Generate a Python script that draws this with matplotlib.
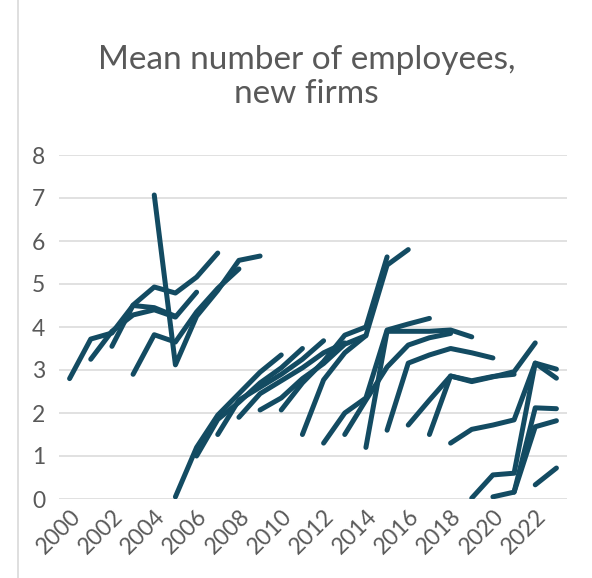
import matplotlib
matplotlib.use("Agg")
import matplotlib.pyplot as plt
from matplotlib.lines import Line2D

# category axis
years = list(range(2000, 2024))
year_labels = [str(y) if y % 2 == 0 else "" for y in years]

# mean employees per cohort, starting in the cohort's first year
cohort_2000 = [2.8, 3.72, 3.86, 4.5, 4.45, 4.25]
cohort_2001 = [3.25, 3.9, 4.28, 4.4, 4.23, 4.81]
cohort_2002 = [3.55, 4.51, 4.93, 4.79, 5.16, 5.72]
cohort_2003 = [2.9, 3.82, 3.65, 4.35, 4.9, 5.35]
cohort_2004 = [7.07, 3.12, 4.25, 4.85, 5.55, 5.65]
cohort_2005 = [0.05, 1.2, 1.95, 2.45, 2.95, 3.35]
cohort_2006 = [1.0, 1.85, 2.25, 2.7, 3.05, 3.5]
cohort_2007 = [1.5, 2.3, 2.6, 2.9, 3.25, 3.68]
cohort_2008 = [1.9, 2.45, 2.75, 3.05, 3.4, 3.63]
cohort_2009 = [2.07, 2.35, 2.8, 3.15, 3.6, 3.8]
cohort_2010 = [2.07, 2.7, 3.2, 3.81, 4.0, 5.63]
cohort_2011 = [1.5, 2.77, 3.4, 3.8, 5.44, 5.8]
cohort_2012 = [1.3, 2.0, 2.35, 3.93, 4.07, 4.2]
cohort_2013 = [1.5, 2.3, 3.07, 3.58, 3.75, 3.85]
cohort_2014 = [1.2, 3.9, 3.9, 3.9, 3.93, 3.77]
cohort_2015 = [1.6, 3.16, 3.35, 3.5, 3.4, 3.28]
cohort_2016 = [1.72, 2.3, 2.86, 2.75, 2.85, 2.9]
cohort_2017 = [1.5, 2.86, 2.73, 2.84, 2.96, 3.63]
cohort_2018 = [1.3, 1.62, 1.72, 1.84, 3.16, 3.02]
cohort_2019 = [0.02, 0.56, 0.6, 3.16, 2.81]
cohort_2020 = [0.05, 0.16, 2.12, 2.1]
cohort_2021 = [0.16, 1.68, 1.82]
cohort_2022 = [0.33, 0.72]

cohorts = [
    (2000, cohort_2000), (2001, cohort_2001), (2002, cohort_2002),
    (2003, cohort_2003), (2004, cohort_2004), (2005, cohort_2005),
    (2006, cohort_2006), (2007, cohort_2007), (2008, cohort_2008),
    (2009, cohort_2009), (2010, cohort_2010), (2011, cohort_2011),
    (2012, cohort_2012), (2013, cohort_2013), (2014, cohort_2014),
    (2015, cohort_2015), (2016, cohort_2016), (2017, cohort_2017),
    (2018, cohort_2018), (2019, cohort_2019), (2020, cohort_2020),
    (2021, cohort_2021), (2022, cohort_2022),
]

line_color = "#134B62"
text_color = "#595959"
grid_color = "#D9D9D9"

plt.rcParams["font.family"] = ["Lato", "DejaVu Sans"]

fig = plt.figure(figsize=(5.92, 5.78), dpi=100)
ax = fig.add_axes([59 / 592, 1 - 499 / 578, 508 / 592, 344 / 578])

for start, vals in cohorts:
    i0 = years.index(start)
    xs = list(range(i0, i0 + len(vals)))
    ax.plot(xs, vals, color=line_color, lw=3.6, solid_capstyle="round",
            solid_joinstyle="round", zorder=3)

ax.set_xlim(-0.5, len(years) - 0.5)
ax.set_ylim(0, 8)
ax.set_yticks(range(0, 9))
ax.set_xticks(range(len(years)))
ax.set_xticklabels(year_labels, rotation=45, ha="right", rotation_mode="anchor")
ax.tick_params(axis="both", length=0, labelsize=16.5, colors=text_color)
ax.tick_params(axis="y", pad=10)
ax.tick_params(axis="x", pad=5)
ax.yaxis.grid(True, color=grid_color, lw=1.1)
ax.set_axisbelow(True)
for s in ax.spines.values():
    s.set_visible(False)

fig.text(0.518, 1 - 77 / 578, "Mean number of employees,\nnew firms", ha="center",
         va="center", fontsize=24, color=text_color, linespacing=1.2)

# chart area border on the left edge
fig.add_artist(Line2D([18 / 592, 18 / 592], [0, 1], color=grid_color, lw=1.2,
                      transform=fig.transFigure))

fig.savefig("out.png", dpi=100, facecolor="white")
